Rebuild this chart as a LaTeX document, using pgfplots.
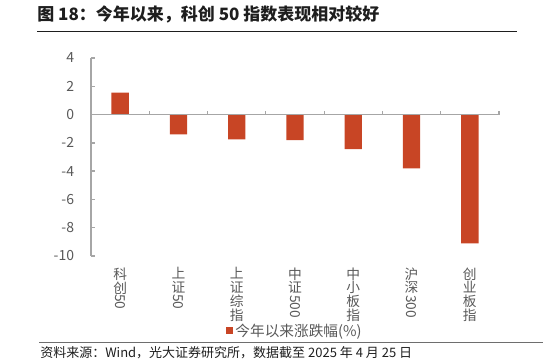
\documentclass[border=0pt]{standalone}
\usepackage{fontspec}
\setmainfont{Noto Sans CJK SC}
\usepackage{pgfplots}
\pgfplotsset{compat=1.18}
\usepackage{graphicx}
\definecolor{barc}{RGB}{200,69,37}
\definecolor{axc}{RGB}{166,166,166}
\definecolor{txt}{RGB}{89,89,89}
\definecolor{ttl}{RGB}{30,30,30}
\newcommand{\rd}[1]{\rotatebox[origin=c]{-90}{#1}}
\begin{document}
\begin{tikzpicture}
\begin{scope}[x=0.75pt,y=-0.75pt,yshift=272.25pt]
\path[use as bounding box] (0,0) rectangle (550,363);
\node[anchor=west,inner sep=0pt,text=ttl,font=\fontsize{12.75pt}{14pt}\selectfont\bfseries] at (37,14.5) {图 18：今年以来，科创 50 指数表现相对较好};
\draw[line width=0.8pt, color=ttl] (37,31.5) -- (517,31.5);
\draw[line width=0.8pt, color={rgb,255:red,110;green,110;blue,110}] (39,342.5) -- (543,342.5);
\node[anchor=west, inner sep=0pt, text=ttl, font=\fontsize{9.75pt}{11pt}\selectfont] at (40,352.5) {资料来源：Wind，光大证券研究所，数据截至 2025 年 4 月 25 日};
\end{scope}
\begin{axis}[at={(68.25pt,80.25pt)}, anchor=south west, scale only axis,
  width=306pt, height=148.5pt,
  xmin=-0.5, xmax=6.5, ymin=-10, ymax=4,
  axis lines*=left,
  x axis line style={draw=none},
  y axis line style={axc, line width=1.1pt},
  xtick={0,1,2,3,4,5,6},
  xtick style={draw=none},
  xticklabels={{科\\创\\\rd{50}},{上\\证\\\rd{50}},{上\\证\\综\\指},{中\\证\\\rd{500}},{中\\小\\板\\指},{沪\\深\\\rd{300}},{创\\业\\板\\指}},
  xticklabel style={align=center, text=txt, inner sep=0pt, yshift=-8.5pt, font=\fontsize{10.3pt}{10.4pt}\selectfont},
  ytick={-10,-8,-6,-4,-2,0,2,4},
  yticklabels={-10,-8,-6,-4,-2,0,2,4},
  yticklabel style={text=txt, inner sep=0pt, xshift=-12.5pt, font=\fontsize{10.5pt}{12pt}\selectfont},
  ytick style={axc, line width=1.1pt},
  tick align=inside, major tick length=3pt,
  legend style={draw=none, fill=none, at={(0.5,-0.378)}, anchor=center, font=\fontsize{11pt}{12pt}\selectfont, text=txt, inner sep=0pt},
  clip=false,
]
\addplot[ybar, bar width=13pt, fill=barc, draw=none,
  legend image code/.code={\fill[barc] (0pt,-2.6pt) rectangle (5.2pt,2.6pt);}]
  coordinates {(0,1.55) (1,-1.4) (2,-1.75) (3,-1.8) (4,-2.45) (5,-3.8) (6,-9.1)};
\addlegendentry{今年以来涨跌幅(\%)}
\draw[axc, line width=1.1pt] (axis cs:-0.5,0) -- (axis cs:6.5,0);
\draw[axc, line width=0.8pt] (axis cs:0.5,0) -- ++(0pt,3pt);
\draw[axc, line width=0.8pt] (axis cs:1.5,0) -- ++(0pt,3pt);
\draw[axc, line width=0.8pt] (axis cs:2.5,0) -- ++(0pt,3pt);
\draw[axc, line width=0.8pt] (axis cs:3.5,0) -- ++(0pt,3pt);
\draw[axc, line width=0.8pt] (axis cs:4.5,0) -- ++(0pt,3pt);
\draw[axc, line width=0.8pt] (axis cs:5.5,0) -- ++(0pt,3pt);
\draw[axc, line width=0.8pt] (axis cs:6.5,0) -- ++(0pt,3pt);
\end{axis}
\end{tikzpicture}
\end{document}
